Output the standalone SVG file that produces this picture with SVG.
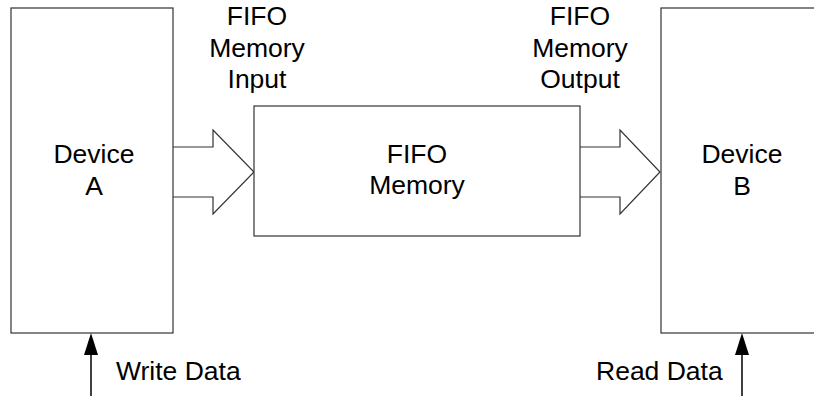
<svg xmlns="http://www.w3.org/2000/svg" width="814" height="396" viewBox="0 0 814 396">
<style>
.box{fill:#fff;stroke:#333;stroke-width:1.2}
.ln{fill:none;stroke:#000;stroke-width:1.5}
.fat{fill:#fff;stroke:#333;stroke-width:1.2;stroke-linejoin:miter}
text{font-family:"Liberation Sans",Arial,sans-serif;font-size:26.5px;fill:#000;text-anchor:middle}
.lft{text-anchor:start}
</style>
<rect width="814" height="396" fill="#fff"/>
<g id="connectors">
<path class="fat" d="M173,147 H213 V130 L254,172 L213,214 V197 H173"/>
<path class="fat" d="M580,147 H620 V130 L660,172 L620,214 V197 H580"/>
<line class="ln" x1="91" y1="396" x2="91" y2="355"/>
<path d="M84,355 L91,333 L98,355 Z" fill="#000"/>
<line class="ln" x1="742" y1="396" x2="742" y2="355"/>
<path d="M735,355 L742,333 L749,355 Z" fill="#000"/>
</g>
<g id="deviceA">
<rect class="box" x="11" y="8" width="162" height="325"/>
<text x="94" y="163">Device</text>
<text x="94" y="195">A</text>
</g>
<g id="fifo">
<rect class="box" x="254" y="106" width="326" height="130"/>
<text x="417" y="163">FIFO</text>
<text x="417" y="194">Memory</text>
</g>
<g id="deviceB">
<rect class="box" x="661" y="8" width="170" height="325"/>
<text x="742" y="163">Device</text>
<text x="742" y="195">B</text>
</g>
<g id="labels">
<text x="257" y="25">FIFO</text>
<text x="257" y="57">Memory</text>
<text x="257" y="88">Input</text>
<text x="580" y="25">FIFO</text>
<text x="580" y="57">Memory</text>
<text x="580" y="88">Output</text>
<text class="lft" x="116" y="380">Write Data</text>
<text class="lft" x="596" y="380">Read Data</text>
</g>
</svg>
